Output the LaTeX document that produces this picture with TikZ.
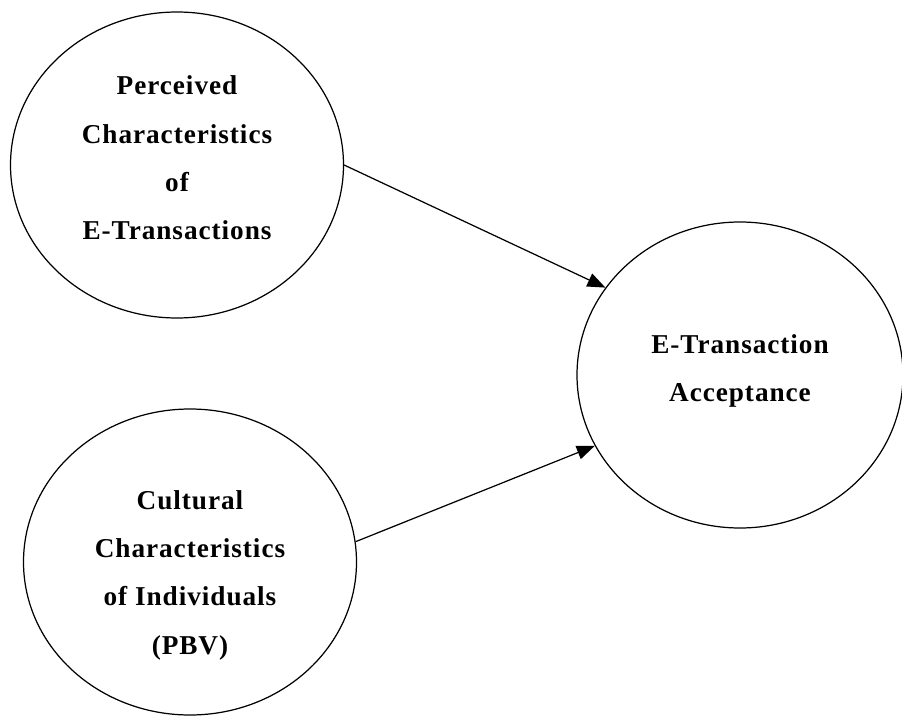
\documentclass[tikz,border=0pt]{standalone}
\usepackage{fontspec}
\setmainfont{Liberation Serif}[LetterSpace = 3.5]
\usetikzlibrary{shapes.geometric, arrows.meta}

\begin{document}
\begin{tikzpicture}[
	construct/.style = {draw, shape = ellipse, line width = 0.7pt, inner sep = 0pt,
		minimum width = 6.66cm, minimum height = 6.12cm},
	words/.style = {align = center, font = \fontsize{15.5}{27.5}\selectfont\bfseries},
	link/.style = {line width = 0.7pt, -{Triangle[length = 0.36cm, width = 0.28cm]}}]
	\useasboundingbox (0, 0) rectangle (18.04, -14.32);
	\node[construct] (perc) at (3.54, -3.30) {};
	\node[construct] (cult) at (3.80, -11.24) {};
	\node[construct, minimum width = 6.52cm] (accept) at (14.80, -7.50) {};
	\node[words] (perc-text) at ([yshift = 0.14cm]perc.center) {Perceived\\Characteristics\\of\\E-Transactions};
	\node[words] (cult-text) at ([yshift = -0.26cm]cult.center) {Cultural\\Characteristics\\of Individuals\\(PBV)};
	\node[words] (accept-text) at ([yshift = 0.08cm]accept.center) {E-Transaction\\Acceptance};
	\draw[link] (perc.east) -- (accept.147);
	\draw[link] (cult.7) -- (accept.206);
\end{tikzpicture}
\end{document}
